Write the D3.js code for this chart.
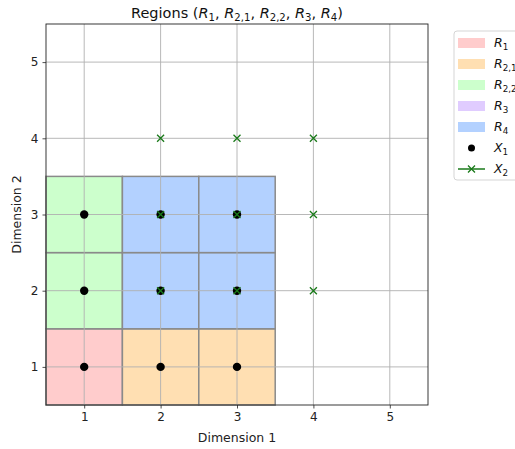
<!DOCTYPE html>
<html>
<head>
<meta charset="utf-8">
<script src="https://cdn.jsdelivr.net/npm/d3@7"></script>
<style>
  body { margin: 0; background: #fff; }
  svg { font-family: "DejaVu Sans", sans-serif; }
</style>
</head>
<body>
<svg id="chart" width="515" height="449"></svg>
<script>
// regions: list of unit cells [x, y] per region
const regionNames = ['1', '2,1', '2,2', '3', '4'];
const regionColors = ['#ffcccc', '#ffdfb2', '#ccffcc', '#e0ccff', '#b3d1ff'];
const regionCells = [
    [[1, 1]],
    [[2, 1], [3, 1]],
    [[1, 2], [1, 3]],
    [],
    [[2, 2], [3, 2], [2, 3], [3, 3]]
];
const x1Points = [[1, 1], [2, 1], [3, 1], [1, 2], [2, 2], [3, 2], [1, 3], [2, 3], [3, 3]];
const x2Points = [[2, 2], [3, 2], [2, 3], [3, 3], [2, 4], [3, 4], [4, 4], [4, 3], [4, 2]];
const ticks = [1, 2, 3, 4, 5];

const svg = d3.select('#chart');
const margin = {left: 46, right: 87, top: 24, bottom: 44};
const width = 515 - margin.left - margin.right;
const height = 449 - margin.top - margin.bottom;

const x = d3.scaleLinear().domain([0.5, 5.5]).range([margin.left, margin.left + width]);
const y = d3.scaleLinear().domain([0.5, 5.5]).range([margin.top + height, margin.top]);

// region cells
regionCells.forEach((cells, i) => {
    svg.append('g')
        .selectAll('rect')
        .data(cells)
        .join('rect')
        .attr('x', d => x(d[0] - 0.5))
        .attr('y', d => y(d[1] + 0.5))
        .attr('width', d => x(d[0] + 0.5) - x(d[0] - 0.5))
        .attr('height', d => y(d[1] - 0.5) - y(d[1] + 0.5))
        .attr('fill', regionColors[i])
        .attr('stroke', '#8a8a8a')
        .attr('stroke-width', 1.5);
});

// grid
const grid = svg.append('g').attr('stroke', '#b0b0b0').attr('stroke-width', 0.9);
grid.selectAll('.gx').data(ticks).join('line')
    .attr('x1', d => x(d)).attr('x2', d => x(d))
    .attr('y1', margin.top).attr('y2', margin.top + height);
grid.selectAll('.gy').data(ticks).join('line')
    .attr('y1', d => y(d)).attr('y2', d => y(d))
    .attr('x1', margin.left).attr('x2', margin.left + width);

// axes
const xAxis = svg.append('g')
    .attr('transform', `translate(0,${margin.top + height})`)
    .call(d3.axisBottom(x).tickValues(ticks).tickSize(3.5).tickPadding(4).tickFormat(d3.format('d')));
const yAxis = svg.append('g')
    .attr('transform', `translate(${margin.left},0)`)
    .call(d3.axisLeft(y).tickValues(ticks).tickSize(3.5).tickPadding(4).tickFormat(d3.format('d')));
[xAxis, yAxis].forEach(a => {
    a.select('.domain').remove();
    a.selectAll('text').attr('font-size', 12).attr('fill', '#222').attr('font-family', '"DejaVu Sans", sans-serif');
    a.selectAll('line').attr('stroke', '#222').attr('stroke-width', 0.8);
});

// frame
svg.append('rect')
    .attr('x', margin.left).attr('y', margin.top)
    .attr('width', width).attr('height', height)
    .attr('fill', 'none').attr('stroke', '#222').attr('stroke-width', 0.9);

// points
svg.append('g').selectAll('circle')
    .data(x1Points)
    .join('circle')
    .attr('cx', d => x(d[0]))
    .attr('cy', d => y(d[1]))
    .attr('r', 4.2)
    .attr('fill', 'black');

const xMark = 'M-3.5,-3.5L3.5,3.5M-3.5,3.5L3.5,-3.5';
svg.append('g').selectAll('path')
    .data(x2Points)
    .join('path')
    .attr('transform', d => `translate(${x(d[0])},${y(d[1])})`)
    .attr('d', xMark)
    .attr('stroke', '#1a7a1a')
    .attr('stroke-width', 1.3)
    .attr('fill', 'none');

// labels
svg.append('text')
    .attr('x', x(3)).attr('y', 442)
    .attr('text-anchor', 'middle').attr('font-size', 12.5).attr('fill', '#222')
    .text('Dimension 1');
svg.append('text')
    .attr('transform', `translate(21,${y(3)}) rotate(-90)`)
    .attr('text-anchor', 'middle').attr('font-size', 12.5).attr('fill', '#222')
    .text('Dimension 2');

// math-ish text: letter italic + subscript, the next piece goes back up
function mathLabel(sel, letter, sub, size, after) {
    const off = size * 0.22;
    sel.append('tspan').attr('font-style', 'italic').text(letter);
    sel.append('tspan').attr('font-size', size * 0.7).attr('dy', off).text(sub);
    if (after) sel.append('tspan').attr('dy', -off).text(after);
}
const title = svg.append('text')
    .attr('x', x(3)).attr('y', 18)
    .attr('text-anchor', 'middle').attr('font-size', 14.5).attr('fill', '#111');
title.append('tspan').text('Regions (');
regionNames.forEach((n, i) => {
    mathLabel(title, 'R', n, 14.5, i < regionNames.length - 1 ? ',\u00a0' : ')');
});

// legend
const lg = svg.append('g').attr('transform', 'translate(454,31)');
lg.append('rect')
    .attr('width', 70).attr('height', 149)
    .attr('rx', 3)
    .attr('fill', 'white').attr('stroke', '#d5d5d5');
const rowH = 21;
regionNames.forEach((n, i) => {
    const row = lg.append('g').attr('transform', `translate(0,${12 + i * rowH})`);
    row.append('rect')
        .attr('x', 4).attr('y', -5).attr('width', 27).attr('height', 10)
        .attr('fill', regionColors[i]);
    const t = row.append('text').attr('x', 40).attr('y', 4).attr('font-size', 12.5).attr('fill', '#111');
    mathLabel(t, 'R', n, 12.5);
});
const r1 = lg.append('g').attr('transform', `translate(0,${12 + 5 * rowH})`);
r1.append('circle').attr('cx', 17.5).attr('cy', 0).attr('r', 3.5).attr('fill', 'black');
const t1 = r1.append('text').attr('x', 40).attr('y', 4).attr('font-size', 12.5).attr('fill', '#111');
mathLabel(t1, 'X', '1', 12.5);
const r2 = lg.append('g').attr('transform', `translate(0,${12 + 6 * rowH})`);
r2.append('line').attr('x1', 4).attr('x2', 31).attr('stroke', '#1a7a1a').attr('stroke-width', 1.5);
r2.append('path').attr('transform', 'translate(17.5,0)').attr('d', xMark)
    .attr('stroke', '#1a7a1a').attr('stroke-width', 1.3);
const t2 = r2.append('text').attr('x', 40).attr('y', 4).attr('font-size', 12.5).attr('fill', '#111');
mathLabel(t2, 'X', '2', 12.5);
</script>
</body>
</html>
